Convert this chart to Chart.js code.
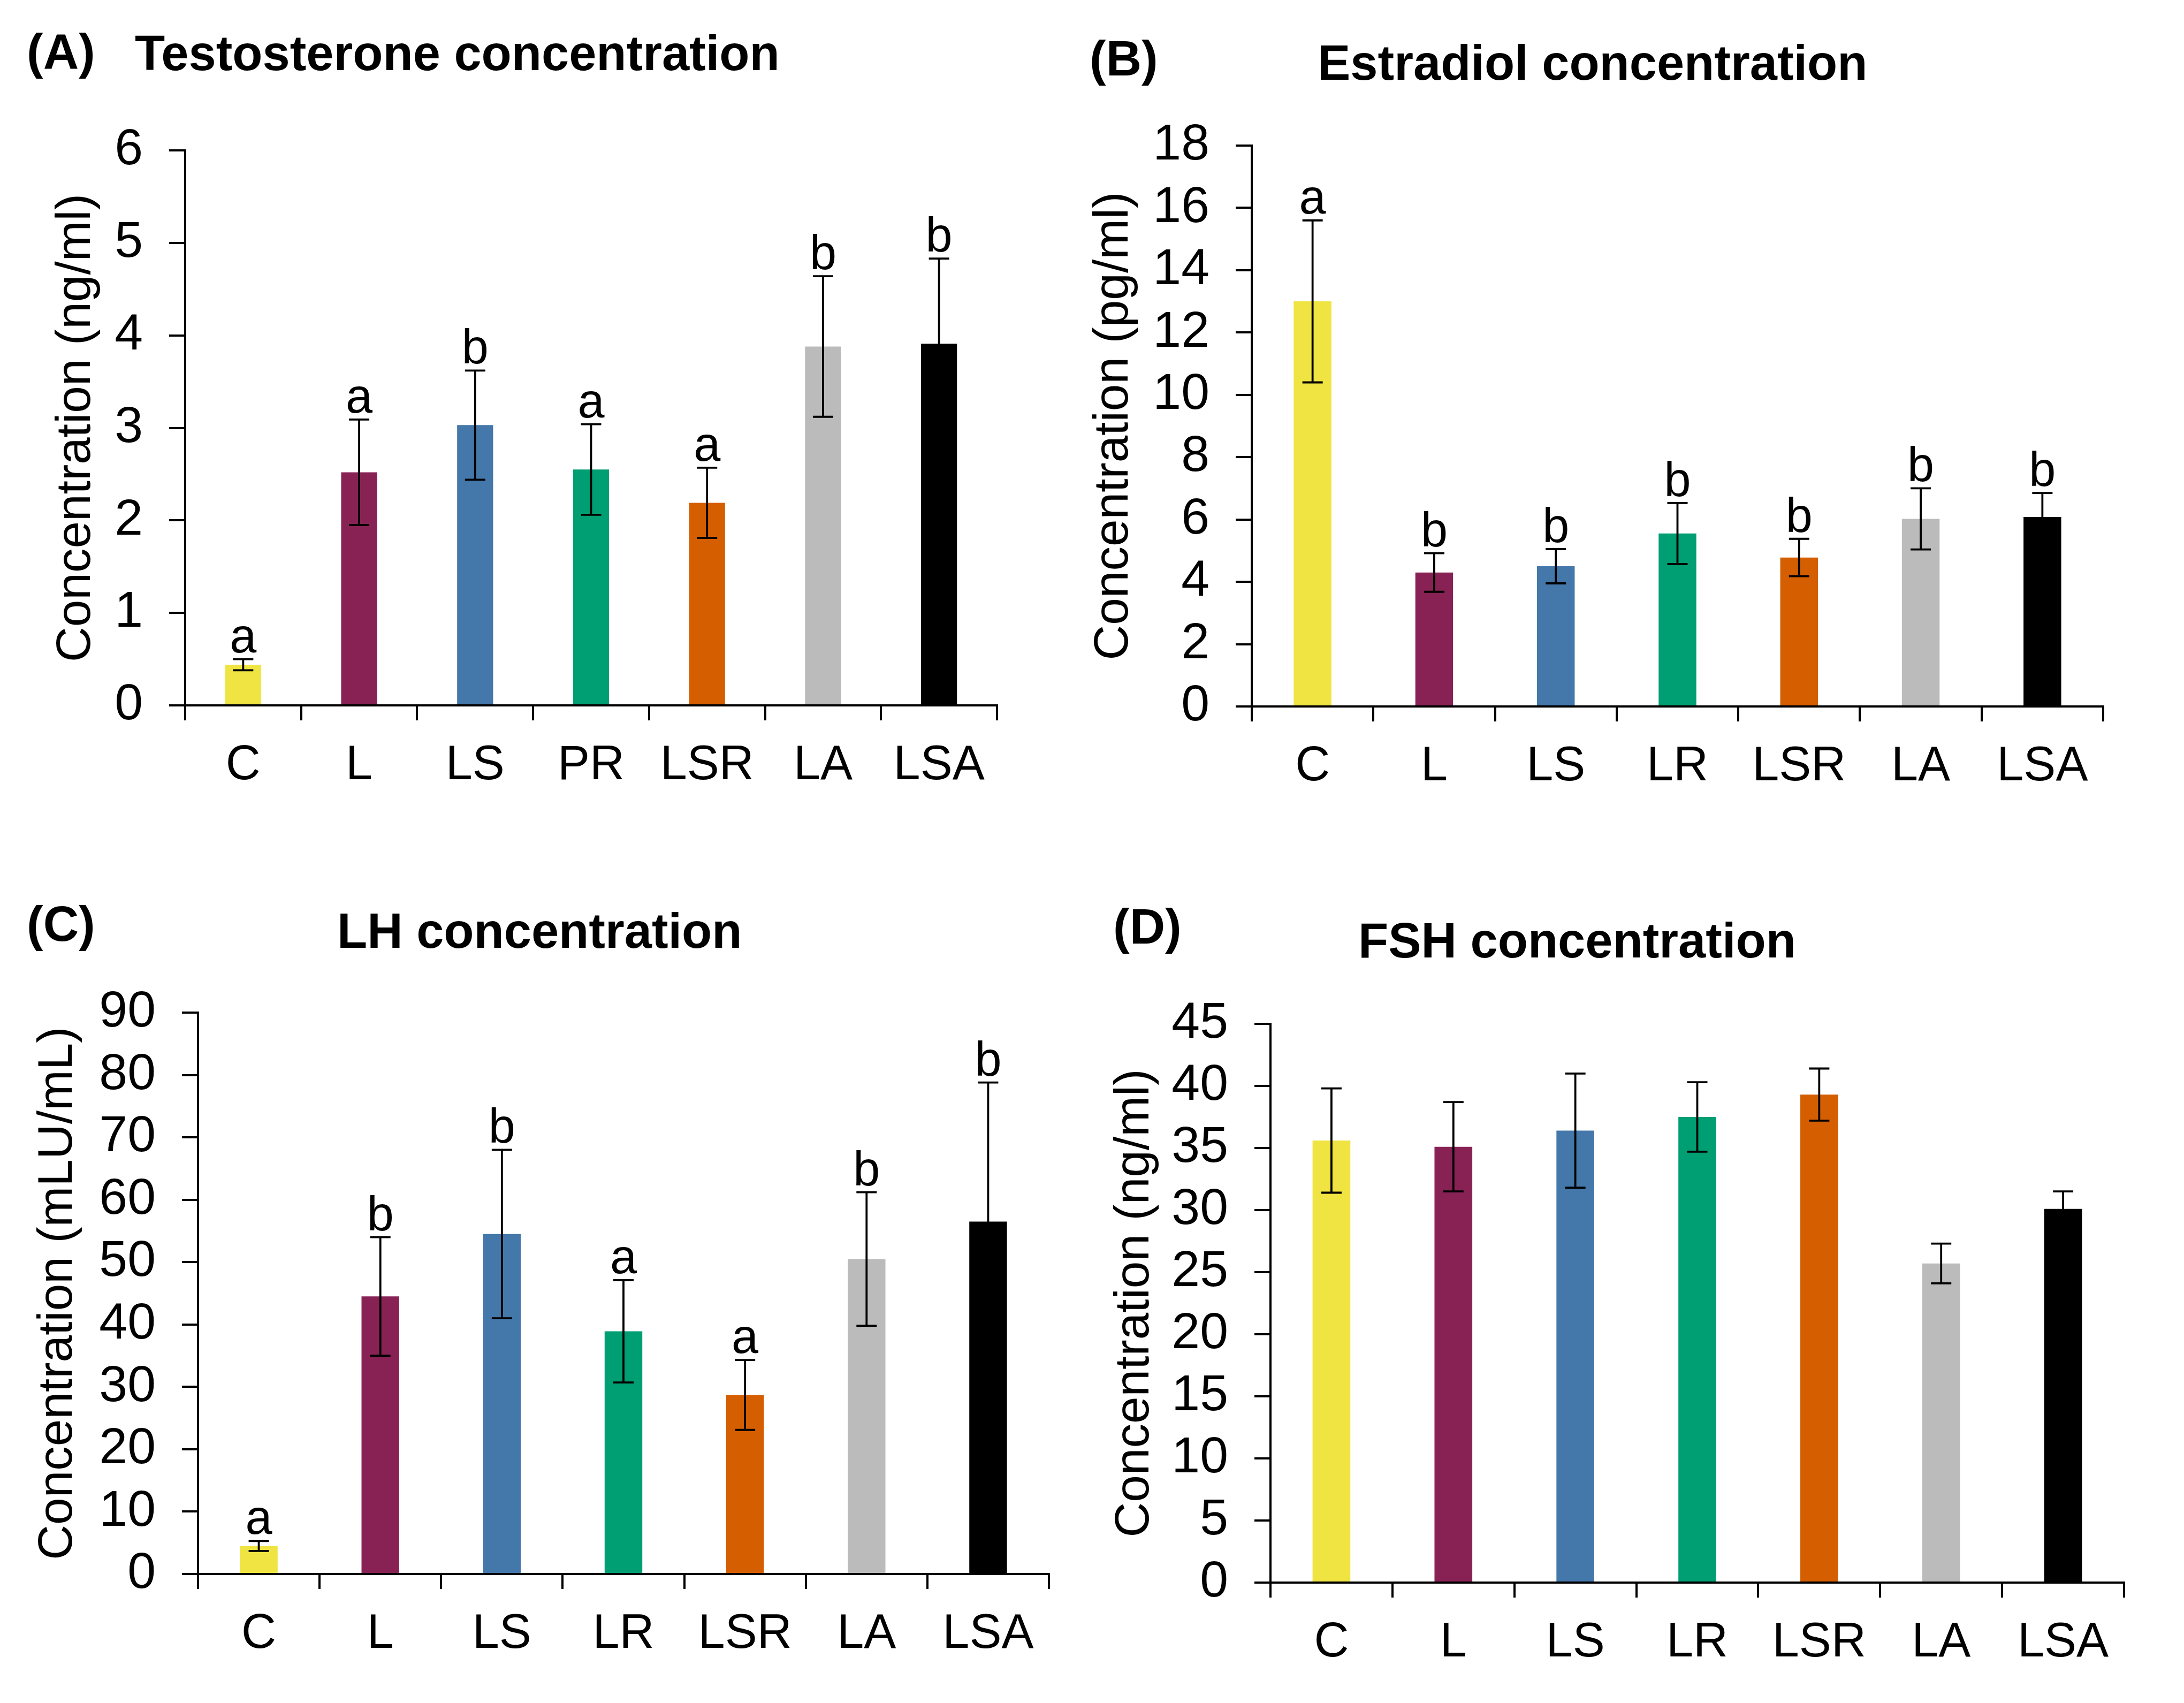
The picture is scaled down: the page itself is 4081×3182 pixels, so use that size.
<!DOCTYPE html>
<html>
<head>
<meta charset="utf-8">
<script src="https://cdn.jsdelivr.net/npm/chart.js@4.4.1/dist/chart.umd.min.js"></script>
<style>
  html, body { margin: 0; padding: 0; background: #fff; }
  #page { position: relative; width: 4081px; height: 3182px; overflow: hidden; background: #fff; }
  canvas { position: absolute; left: 0; top: 0; }
  .txt { position: absolute; font-family: "Liberation Sans", Arial, sans-serif; font-weight: bold; color: #000; white-space: nowrap; line-height: 1.2; font-size: 92px; }
</style>
</head>
<body>
<div id="page">
  <canvas id="chartA" width="4081" height="3182"></canvas>
  <canvas id="chartB" width="4081" height="3182"></canvas>
  <canvas id="chartC" width="4081" height="3182"></canvas>
  <canvas id="chartD" width="4081" height="3182"></canvas>
  <div class="txt" style="left:50px; top:41px;">(A)</div>
  <div class="txt" style="left:252px; top:44px;">Testosterone concentration</div>
  <div class="txt" style="left:2036px; top:54px;">(B)</div>
  <div class="txt" style="left:2462px; top:62px;">Estradiol concentration</div>
  <div class="txt" style="left:50px; top:1671px;">(C)</div>
  <div class="txt" style="left:630px; top:1684px;">LH concentration</div>
  <div class="txt" style="left:2080px; top:1676px;">(D)</div>
  <div class="txt" style="left:2538px; top:1702px;">FSH concentration</div>
</div>
<script>
// categories
const groupsA = ["C", "L", "LS", "PR", "LSR", "LA", "LSA"];
const groups = ["C", "L", "LS", "LR", "LSR", "LA", "LSA"];

// (A) testosterone, ng/ml
const testosterone = [0.44, 2.52, 3.03, 2.55, 2.19, 3.88, 3.91];
const testosteroneErr = [0.06, 0.57, 0.59, 0.49, 0.38, 0.76, 0.92];
const testosteroneLetters = ["a", "a", "b", "a", "a", "b", "b"];
const testosteroneAxis = [0, 6, 1];

// (B) estradiol, pg/ml
const estradiol = [13.0, 4.3, 4.5, 5.55, 4.78, 6.02, 6.08];
const estradiolErr = [2.6, 0.62, 0.55, 0.98, 0.6, 0.98, 0.77];
const estradiolLetters = ["a", "b", "b", "b", "b", "b", "b"];
const estradiolAxis = [0, 18, 2];

// (C) LH, mLU/mL
const lh = [4.5, 44.5, 54.5, 38.9, 28.7, 50.5, 56.5];
const lhErr = [0.8, 9.5, 13.5, 8.2, 5.6, 10.7, 22.3];
const lhLetters = ["a", "b", "b", "a", "a", "b", "b"];
const lhAxis = [0, 90, 10];

// (D) FSH, ng/ml
const fsh = [35.6, 35.1, 36.4, 37.5, 39.3, 25.7, 30.1];
const fshErr = [4.2, 3.6, 4.6, 2.8, 2.1, 1.6, 1.4];
const fshLetters = ["", "", "", "", "", "", ""];
const fshAxis = [0, 45, 5];

const barColors = ["#EFE442", "#882255", "#4477AA", "#009E73", "#D55E00", "#BBBBBB", "#000000"];

const FONT = "'Liberation Sans', Arial, sans-serif";
const PAGE_W = 4081;
const PAGE_H = 3182;

// draws the error bars and the significance letters
const errorBarPlugin = {
  id: "errorBars",
  afterDatasetsDraw(chart, args, opts) {
    const ctx = chart.ctx;
    const y = chart.scales.y;
    const meta = chart.getDatasetMeta(0);
    const values = chart.data.datasets[0].data;
    ctx.save();
    ctx.strokeStyle = "#000";
    ctx.lineWidth = 3.8;
    meta.data.forEach((bar, i) => {
      const hi = y.getPixelForValue(values[i] + opts.err[i]);
      const lo = y.getPixelForValue(values[i] - opts.err[i]);
      const cap = 19;
      ctx.beginPath();
      ctx.moveTo(bar.x, hi);
      ctx.lineTo(bar.x, lo);
      ctx.moveTo(bar.x - cap, hi);
      ctx.lineTo(bar.x + cap, hi);
      ctx.moveTo(bar.x - cap, lo);
      ctx.lineTo(bar.x + cap, lo);
      ctx.stroke();
      if (opts.letters[i]) {
        ctx.fillStyle = "#000";
        ctx.font = "90px " + FONT;
        ctx.textAlign = "center";
        ctx.textBaseline = "alphabetic";
        ctx.fillText(opts.letters[i], bar.x, hi - 13);
      }
    });
    ctx.restore();
  }
};

function makeChart(id, p) {
  const padLeft = p.titleX - 55;
  const xHeight = 200;
  new Chart(document.getElementById(id), {
    type: "bar",
    data: {
      labels: p.labels,
      datasets: [{
        data: p.values,
        backgroundColor: barColors,
        borderWidth: 0,
        barPercentage: 0.31,
        categoryPercentage: 1
      }]
    },
    options: {
      responsive: false,
      animation: false,
      devicePixelRatio: 1,
      layout: {
        padding: { left: padLeft, top: p.top, right: PAGE_W - p.right, bottom: PAGE_H - p.zero - xHeight }
      },
      plugins: {
        legend: { display: false },
        tooltip: { enabled: false },
        errorBars: { err: p.err, letters: p.letters }
      },
      scales: {
        x: {
          grid: { drawOnChartArea: false, offset: true, tickLength: 28, color: "#000", lineWidth: 4 },
          border: { color: "#000", width: 4 },
          ticks: { color: "#000", font: { family: FONT, size: 90 }, padding: 31, maxRotation: 0, autoSkip: false },
          afterFit(scale) { scale.height = xHeight; }
        },
        y: {
          min: p.axis[0],
          max: p.axis[1],
          grid: { drawOnChartArea: false, tickLength: 30, color: "#000", lineWidth: 4 },
          border: { color: "#000", width: 4 },
          ticks: { stepSize: p.axis[2], color: "#000", font: { family: FONT, size: 95 }, padding: 49, autoSkip: false },
          title: { display: true, text: p.yTitle, color: "#000", font: { family: FONT, size: 91 }, padding: 0 },
          afterFit(scale) { scale.width = p.axisX - padLeft; }
        }
      }
    },
    plugins: [errorBarPlugin]
  });
}

makeChart("chartA", {
  labels: groupsA, values: testosterone, err: testosteroneErr, letters: testosteroneLetters,
  axis: testosteroneAxis, yTitle: "Concentration (ng/ml)",
  titleX: 143, axisX: 346, top: 281, zero: 1318, right: 1863
});
makeChart("chartB", {
  labels: groups, values: estradiol, err: estradiolErr, letters: estradiolLetters,
  axis: estradiolAxis, yTitle: "Concentration (pg/ml)",
  titleX: 2082, axisX: 2339, top: 272, zero: 1320, right: 3930
});
makeChart("chartC", {
  labels: groups, values: lh, err: lhErr, letters: lhLetters,
  axis: lhAxis, yTitle: "Concentration (mLU/mL)",
  titleX: 109, axisX: 370, top: 1892, zero: 2941, right: 1960
});
makeChart("chartD", {
  labels: groups, values: fsh, err: fshErr, letters: fshLetters,
  axis: fshAxis, yTitle: "Concentration (ng/ml)",
  titleX: 2121, axisX: 2374, top: 1913, zero: 2957, right: 3969
});
</script>
</body>
</html>
